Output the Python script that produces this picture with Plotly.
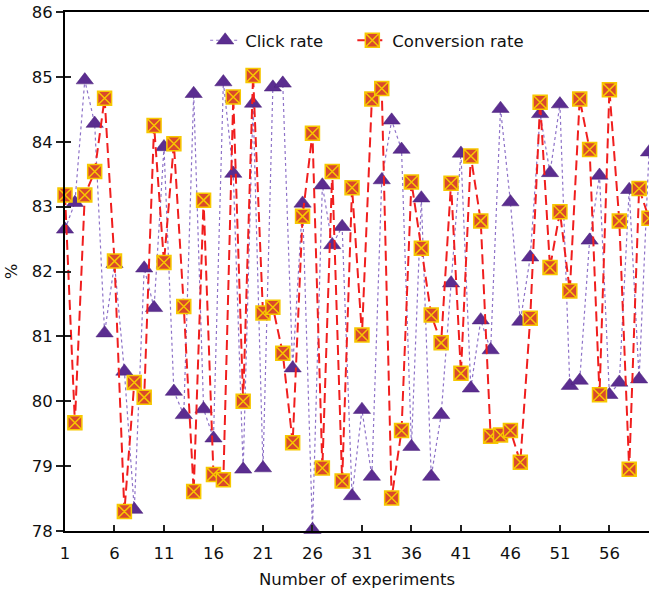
import plotly.graph_objects as go

experiments = list(range(1, 61))

click_rate = [82.65, 83.06, 84.95, 84.28, 81.05, 82.12, 80.46, 78.33, 82.05, 81.44,
              83.92, 80.15, 79.79, 84.74, 79.88, 79.43, 84.92, 83.51, 78.95, 84.59,
              78.97, 84.84, 84.90, 80.51, 83.05, 78.02, 83.33, 82.41, 82.69, 78.54,
              79.87, 78.84, 83.41, 84.33, 83.88, 79.30, 83.13, 78.84, 79.79, 81.82,
              83.82, 80.20, 81.25, 80.79, 84.51, 83.07, 81.23, 82.22, 84.43, 83.52,
              84.58, 80.24, 80.32, 82.48, 83.48, 80.10, 80.29, 83.26, 80.34, 83.84]

conversion_rate = [83.18, 79.67, 83.18, 83.54, 84.67, 82.16, 78.30, 80.29, 80.06, 84.25,
                   82.14, 83.97, 81.46, 78.61, 83.10, 78.87, 78.79, 84.69, 80.00, 85.02,
                   81.36, 81.45, 80.74, 79.36, 82.85, 84.13, 78.97, 83.54, 78.77, 83.29,
                   81.02, 84.66, 84.82, 78.51, 79.55, 83.38, 82.36, 81.33, 80.90, 83.36,
                   80.43, 83.78, 82.78, 79.46, 79.48, 79.55, 79.06, 81.28, 84.61, 82.06,
                   82.92, 81.70, 84.66, 83.88, 80.10, 84.80, 82.78, 78.95, 83.28, 82.82]

FONT = "DejaVu Sans"
FS = 16.5

fig = go.Figure()
fig.add_trace(go.Scatter(
    x=experiments, y=click_rate, name="Click rate", mode="lines+markers",
    line=dict(color="#8e72c8", width=1.2, dash="dot"),
    marker=dict(symbol="triangle-up", size=15, color="#5b2d90",
                line=dict(color="#4a2078", width=0.5)),
    cliponaxis=False, legend="legend",
))
fig.add_trace(go.Scatter(
    x=experiments, y=conversion_rate, name="Conversion rate", mode="lines+markers",
    line=dict(color="#f01e1e", width=2, dash="10px,5px"),
    marker=dict(symbol="square-x", size=14, color="#d9482c",
                line=dict(color="#f7c800", width=1.5)),
    cliponaxis=False, legend="legend2",
))
fig.add_trace(go.Scatter(x=[None], y=[None], yaxis="y2", showlegend=False,
                         hoverinfo="skip"))

legend_common = dict(orientation="h", y=0.945, xanchor="left", yanchor="middle",
                     bgcolor="rgba(0,0,0,0)", font=dict(size=FS, color="#111111"),
                     itemwidth=30)

fig.update_layout(
    width=649, height=590,
    margin=dict(l=65, r=0, t=12, b=59),
    paper_bgcolor="white", plot_bgcolor="white",
    font=dict(family=FONT, size=FS, color="#111111"),
    showlegend=True,
    legend=dict(x=0.24, **legend_common),
    legend2=dict(x=0.492, **legend_common),
    xaxis=dict(
        range=[1, 60], tickmode="linear", tick0=1, dtick=5,
        ticks="inside", ticklen=6, tickwidth=1.5, tickcolor="#222",
        showline=True, linecolor="#000", linewidth=2, mirror=True,
        showgrid=False, zeroline=False, ticklabelstandoff=6,
        title=dict(text="Number of experiments", standoff=12,
                   font=dict(size=FS, family=FONT)),
        tickfont=dict(size=FS, family=FONT),
    ),
    yaxis=dict(
        range=[78, 86], tickmode="linear", tick0=78, dtick=1,
        ticks="outside", ticklen=7, tickwidth=1.5, tickcolor="#222",
        showline=True, linecolor="#000", linewidth=2,
        showgrid=False, zeroline=False,
        title=dict(text="%", standoff=10, font=dict(size=FS, family=FONT)),
        tickfont=dict(size=FS, family=FONT),
    ),
    yaxis2=dict(
        overlaying="y", side="left", range=[78, 86], tickmode="linear", tick0=78, dtick=1,
        ticks="inside", ticklen=6, tickwidth=1.5, tickcolor="#222",
        showticklabels=False, showline=False, showgrid=False, zeroline=False,
    ),
)

fig.write_html("out.html")
